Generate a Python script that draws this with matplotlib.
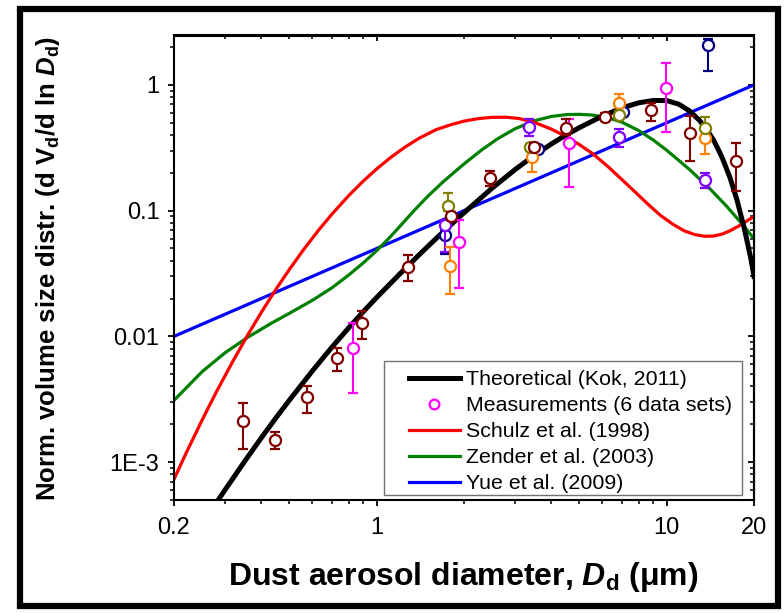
import matplotlib
matplotlib.use('Agg')
import numpy as np
import matplotlib.pyplot as plt
from matplotlib.lines import Line2D
from matplotlib.patches import Rectangle
from matplotlib.ticker import FixedLocator, FixedFormatter, NullFormatter

plt.rcParams['font.family'] = ['Liberation Sans', 'DejaVu Sans']
plt.rcParams['mathtext.fontset'] = 'custom'
plt.rcParams['mathtext.rm'] = 'Liberation Sans:bold'
plt.rcParams['mathtext.it'] = 'Liberation Sans:italic:bold'
plt.rcParams['mathtext.bf'] = 'Liberation Sans:bold'

# ---------------- curves ----------------
kok_x = [0.27, 0.30, 0.35, 0.40, 0.45, 0.50, 0.60, 0.70, 0.80, 0.90, 1.0, 1.2, 1.4, 1.6,
         1.8, 2.0, 2.5, 3.0, 3.5, 4.0, 4.5, 5.0, 6.0, 7.0, 8.0, 9.0, 10.0, 11.0, 12.0,
         13.0, 14.0, 14.5, 15.0, 15.5, 16.0, 16.5, 17.0, 17.5, 18.0, 18.5, 19.0, 19.5, 20.0]
kok_y = [0.00042, 0.000602, 0.00101, 0.00156, 0.00226, 0.00311, 0.00531, 0.00818, 0.01167,
         0.01576, 0.0204, 0.0313, 0.0445, 0.0598, 0.077, 0.0962, 0.151, 0.212, 0.276, 0.339,
         0.400, 0.457, 0.565, 0.655, 0.720, 0.752, 0.750, 0.703, 0.620, 0.520, 0.413, 0.365,
         0.312, 0.267, 0.222, 0.185, 0.149, 0.120, 0.093, 0.073, 0.055, 0.0417, 0.030]

schulz_x = [0.2, 0.22, 0.25, 0.28, 0.32, 0.36, 0.40, 0.45, 0.50, 0.56, 0.63, 0.70, 0.80,
            0.90, 1.0, 1.12, 1.25, 1.4, 1.6, 1.8, 2.0, 2.25, 2.5, 2.8, 3.1, 3.5, 4.0, 4.5,
            5.0, 5.6, 6.3, 7.0, 7.8, 8.6, 9.5, 10.5, 11.5, 12.5, 13.5, 14.5, 15.5, 16.5,
            18.0, 20.0]
schulz_y = [0.000731, 0.001175, 0.00216, 0.00362, 0.00641, 0.01035, 0.01552, 0.0238, 0.0341,
            0.0491, 0.0698, 0.0935, 0.1314, 0.1723, 0.2148, 0.2658, 0.3193, 0.3763, 0.44,
            0.482, 0.515, 0.54, 0.552, 0.553, 0.54, 0.503, 0.445, 0.388, 0.335, 0.280, 0.222,
            0.177, 0.140, 0.113, 0.092, 0.078, 0.069, 0.0645, 0.0625, 0.0628, 0.065, 0.069,
            0.077, 0.090]

zender_x = [0.2, 0.25, 0.3, 0.36, 0.43, 0.5, 0.6, 0.7, 0.8, 0.9, 1.0, 1.1, 1.2, 1.35, 1.5,
            1.7, 2.0, 2.3, 2.6, 3.0, 3.5, 4.0, 4.5, 5.0, 5.5, 6.2, 7.0, 8.0, 9.0, 10.0, 12.0,
            14.0, 16.0, 18.0, 20.0]
zender_y = [0.0031, 0.00524, 0.00741, 0.00987, 0.0126, 0.01527, 0.01935, 0.0243, 0.0307,
            0.0385, 0.0481, 0.060, 0.0747, 0.1009, 0.130, 0.1707, 0.2352, 0.3036, 0.3705,
            0.4479, 0.5187, 0.5609, 0.5801, 0.5832, 0.5762, 0.5525, 0.5058, 0.4338, 0.3635,
            0.3022, 0.2119, 0.1515, 0.110, 0.0807, 0.0598]

yue_x = [0.2, 1.8, 20.0]
yue_y = [0.010, 0.090, 1.0]

# ---------------- measurements (6 data sets) ----------------
wine_x  = [0.346, 0.445, 0.573, 0.73, 0.89, 1.28, 1.80, 2.46, 3.5, 4.48, 6.15, 8.8, 12.0, 17.4]
wine_y  = [0.00211, 0.00151, 0.00329, 0.00672, 0.0127, 0.0357, 0.0907, 0.181, 0.32, 0.458,
           0.554, 0.633, 0.418, 0.246]
wine_hi = [0.00295, 0.00173, 0.00405, 0.00809, 0.0160, 0.0443, 0.098, 0.208, 0.345, 0.533,
           0.60, 0.715, 0.567, 0.348]
wine_lo = [0.00127, 0.00127, 0.00248, 0.00526, 0.0095, 0.0275, 0.085, 0.157, 0.30, 0.40,
           0.52, 0.52, 0.246, 0.142]

mag_x  = [0.83, 1.92, 4.59, 9.94]
mag_y  = [0.0081, 0.056, 0.348, 0.941]
mag_hi = [0.0127, 0.085, 0.533, 1.49]
mag_lo = [0.00355, 0.0242, 0.155, 0.425]

vio_x  = [1.72, 3.35, 6.87, 13.6]
vio_y  = [0.077, 0.466, 0.384, 0.176]
vio_hi = [0.085, 0.533, 0.444, 0.201]
vio_lo = [0.047, 0.393, 0.323, 0.150]

navy_x  = [1.72, 3.6, 7.07, 13.9]
navy_y  = [0.064, 0.308, 0.614, 2.08]
navy_hi = [0.070, 0.33, 0.65, 2.30]
navy_lo = [0.045, 0.29, 0.58, 1.28]

olive_x  = [1.76, 3.38, 6.87, 13.6]
olive_y  = [0.109, 0.32, 0.577, 0.453]
olive_hi = [0.138, 0.34, 0.62, 0.554]
olive_lo = [0.100, 0.30, 0.54, 0.40]

orange_x  = [1.79, 3.43, 6.87, 13.6]
orange_y  = [0.0366, 0.269, 0.715, 0.381]
orange_hi = [0.0518, 0.30, 0.848, 0.45]
orange_lo = [0.0218, 0.204, 0.62, 0.283]

x_major = [0.2, 1, 10, 20]
x_major_labels = ['0.2', '1', '10', '20']
y_major = [1e-3, 1e-2, 1e-1, 1]
y_major_labels = ['1E-3', '0.01', '0.1', '1']

legend_labels = ['Theoretical (Kok, 2011)', 'Measurements (6 data sets)',
                 'Schulz et al. (1998)', 'Zender et al. (2003)', 'Yue et al. (2009)']

# ---------------- figure ----------------
W, H = 784, 613
fig = plt.figure(figsize=(W / 100, H / 100), dpi=100)
ax = fig.add_axes([174 / W, 1 - 500 / H, 580 / W, 464.5 / H])
ax.set_xscale('log')
ax.set_yscale('log')
ax.set_xlim(0.2, 20)
ax.set_ylim(5.0e-4, 2.47)

ax.plot(yue_x, yue_y, color='#0000FF', lw=2.3, zorder=2)
ax.plot(zender_x, zender_y, color='#008000', lw=2.3, zorder=2)
ax.plot(schulz_x, schulz_y, color='#FF0000', lw=2.3, zorder=2)
ax.plot(kok_x, kok_y, color='black', lw=3.6, zorder=2.5, solid_joinstyle='round')

def pts(xs, ys, lo, hi, col, z):
    ys = np.array(ys)
    err = [ys - np.array(lo), np.array(hi) - ys]
    ax.errorbar(xs, ys, yerr=err, fmt='o', ms=8, mfc='white', mec=col, mew=1.6,
                ecolor=col, elinewidth=1.5, capsize=3.3, capthick=1.5, zorder=z)

pts(navy_x, navy_y, navy_lo, navy_hi, '#000080', 3)
pts(vio_x, vio_y, vio_lo, vio_hi, '#8000FF', 3.1)
pts(orange_x, orange_y, orange_lo, orange_hi, '#FF8000', 3.2)
pts(olive_x, olive_y, olive_lo, olive_hi, '#808000', 3.3)
pts(mag_x, mag_y, mag_lo, mag_hi, '#FF00FF', 3.4)
pts(wine_x, wine_y, wine_lo, wine_hi, '#800000', 3.5)

# ticks
x_minor = [0.3, 0.4, 0.5, 0.6, 0.7, 0.8, 0.9, 2, 3, 4, 5, 6, 7, 8, 9]
y_minor = [m * d for d in [1e-4, 1e-3, 1e-2, 1e-1, 1] for m in range(2, 10)
           if 5.0e-4 <= m * d <= 2.47]
ax.xaxis.set_major_locator(FixedLocator(x_major))
ax.xaxis.set_major_formatter(FixedFormatter(x_major_labels))
ax.xaxis.set_minor_locator(FixedLocator(x_minor))
ax.xaxis.set_minor_formatter(NullFormatter())
ax.yaxis.set_major_locator(FixedLocator(y_major))
ax.yaxis.set_major_formatter(FixedFormatter(y_major_labels))
ax.yaxis.set_minor_locator(FixedLocator(y_minor))
ax.yaxis.set_minor_formatter(NullFormatter())
ax.tick_params(which='major', direction='out', length=4.5, width=1.3, labelsize=17)
ax.tick_params(axis='x', which='major', pad=8)
ax.tick_params(axis='y', which='major', pad=6)
ax.tick_params(which='minor', direction='out', length=2.6, width=1.1)
for s in ax.spines.values():
    s.set_linewidth(1.5)

secx = ax.secondary_xaxis('top')
secx.xaxis.set_major_locator(FixedLocator(x_major))
secx.xaxis.set_minor_locator(FixedLocator(x_minor))
secx.xaxis.set_major_formatter(NullFormatter())
secx.xaxis.set_minor_formatter(NullFormatter())
secx.tick_params(which='major', direction='in', length=4.5, width=1.3)
secx.tick_params(which='minor', direction='in', length=2.6, width=1.1)
secy = ax.secondary_yaxis('right')
secy.yaxis.set_major_locator(FixedLocator(y_major))
secy.yaxis.set_minor_locator(FixedLocator(y_minor))
secy.yaxis.set_major_formatter(NullFormatter())
secy.yaxis.set_minor_formatter(NullFormatter())
secy.tick_params(which='major', direction='in', length=4.5, width=1.3)
secy.tick_params(which='minor', direction='in', length=2.6, width=1.1)
for sa in (secx, secy):
    for s in sa.spines.values():
        s.set_linewidth(1.5)

# legend (frame drawn separately to match the asymmetric padding)
frame = Rectangle((384 / W, 1 - 495 / H), (741.5 - 384) / W, (495 - 360.5) / H,
                  transform=fig.transFigure, facecolor='white', edgecolor='#707070',
                  lw=1.0, zorder=4.5, clip_on=False)
ax.add_patch(frame)
handles = [Line2D([], [], color='black', lw=3.6),
           Line2D([], [], ls='none', marker='o', ms=7, mfc='white', mec='#FF00FF', mew=1.6),
           Line2D([], [], color='#FF0000', lw=2.3),
           Line2D([], [], color='#008000', lw=2.3),
           Line2D([], [], color='#0000FF', lw=2.3)]
leg = ax.legend(handles, legend_labels, loc='upper left',
                bbox_to_anchor=(409 / W, 1 - 370 / H), bbox_transform=fig.transFigure,
                borderaxespad=0, borderpad=0, fontsize=15.4, frameon=False,
                handlelength=2.38, handletextpad=0.27, labelspacing=0.33, numpoints=1)
leg.set_zorder(5)

# axis labels
fig.text(463 / W, 1 - 585 / H, r'Dust aerosol diameter, $D_{\rm d}$ (μm)',
         fontsize=23, fontweight='bold', ha='center', va='baseline')
fig.text(55 / W, 1 - 268 / H, r'Norm. volume size distr. (d V$_{\rm d}$/d ln $D_{\rm d}$)',
         fontsize=18.5, fontweight='bold', rotation=90, rotation_mode='anchor',
         ha='center', va='baseline')

# outer frame
fig.add_artist(Rectangle((20 / W, 1 - 606 / H), (778 - 20) / W, (606 - 8.5) / H,
                         transform=fig.transFigure, fill=False, lw=4.5, ec='black'))

fig.savefig('out.png', dpi=100)
